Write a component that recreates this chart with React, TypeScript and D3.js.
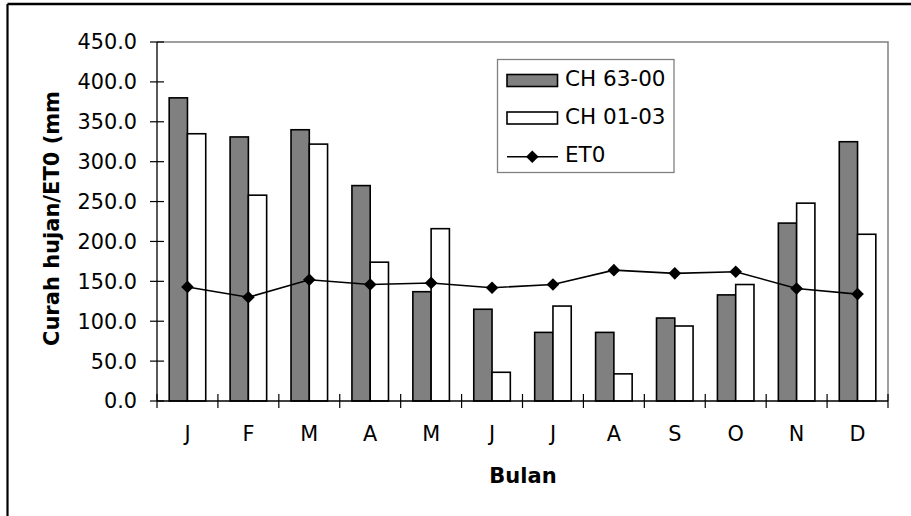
import React from "react";
import * as d3 from "d3";

const months = ["J", "F", "M", "A", "M", "J", "J", "A", "S", "O", "N", "D"];
const ch6300 = [380, 331, 340, 270, 137, 115, 86, 86, 104, 133, 223, 325];
const ch0103 = [335, 258, 322, 174, 216, 36, 119, 34, 94, 146, 248, 209];
const et0 = [143, 130, 152, 146, 148, 142, 146, 164, 160, 162, 141, 134];
const yTicks = [0, 50, 100, 150, 200, 250, 300, 350, 400, 450];
const seriesNames = ["CH 63-00", "CH 01-03"];

const W = 911;
const H = 516;
const left = 157;
const right = 888;
const top = 42;
const bottom = 401;
const FONT = "'DejaVu Sans', sans-serif";

export default function App() {
  const idx = months.map((_, i) => i);
  const x = d3.scaleBand<number>().domain(idx).range([left, right]).padding(0);
  const bw = x.bandwidth();
  const x1 = d3
    .scaleBand<string>()
    .domain(seriesNames)
    .range([bw * 0.2, bw * 0.8])
    .padding(0);
  const y = d3.scaleLinear().domain([0, 450]).range([bottom, top]);
  const fmt = d3.format(".1f");
  const line = d3
    .line<number>()
    .x((_, i) => (x(i) as number) + bw / 2)
    .y((d) => y(d));
  const sq = d3.symbol().type(d3.symbolSquare).size(80)();
  const seriesVals = [ch6300, ch0103];
  const fills = ["#808080", "#ffffff"];

  return (
    <svg
      width={W}
      height={H}
      style={{ position: "absolute", left: 0, top: 0, background: "#fff" }}
      fontFamily={FONT}
    >
      <rect x={0} y={0} width={W} height={H} fill="#fff" />
      {/* outer chart border (top & left visible) */}
      <line x1={7.5} y1={4} x2={W} y2={4} stroke="#000" strokeWidth={2.5} />
      <line x1={7.5} y1={4} x2={7.5} y2={H} stroke="#000" strokeWidth={2.2} />

      {/* plot area top/right border */}
      <path
        d={`M${left},${top}H${right}V${bottom}`}
        fill="none"
        stroke="#808080"
        strokeWidth={1.5}
      />

      {/* bars */}
      {seriesVals.map((vals, s) =>
        vals.map((v, i) => (
          <rect
            key={`b${s}-${i}`}
            x={(x(i) as number) + (x1(seriesNames[s]) as number)}
            y={y(v)}
            width={x1.bandwidth()}
            height={bottom - y(v)}
            fill={fills[s]}
            stroke="#000"
            strokeWidth={1.6}
          />
        ))
      )}

      {/* axes */}
      <line x1={left} y1={top} x2={left} y2={bottom} stroke="#000" strokeWidth={1.3} />
      <line x1={left} y1={bottom} x2={right} y2={bottom} stroke="#000" strokeWidth={1.3} />
      {yTicks.map((t) => (
        <g key={`yt${t}`}>
          <line x1={left - 7} x2={left + 7} y1={y(t)} y2={y(t)} stroke="#000" strokeWidth={1.2} />
          <text
            x={137}
            y={y(t)}
            dy="0.36em"
            textAnchor="end"
            fontSize={20.8}
            fill="#000"
          >
            {fmt(t)}
          </text>
        </g>
      ))}
      {idx.concat([12]).map((i) => {
        const xx = i === 12 ? right : (x(i) as number);
        return (
          <line
            key={`xt${i}`}
            x1={xx}
            x2={xx}
            y1={bottom - 7}
            y2={bottom + 7}
            stroke="#000"
            strokeWidth={1.2}
          />
        );
      })}
      {months.map((m, i) => (
        <text
          key={`xl${i}`}
          x={(x(i) as number) + bw / 2}
          y={441}
          textAnchor="middle"
          fontSize={20.8}
          fill="#000"
        >
          {m}
        </text>
      ))}

      {/* ET0 line */}
      <path d={line(et0) || ""} fill="none" stroke="#000" strokeWidth={1.6} />
      {et0.map((v, i) => (
        <path
          key={`m${i}`}
          d={sq || ""}
          transform={`translate(${(x(i) as number) + bw / 2},${y(v)}) rotate(45)`}
          fill="#000"
        />
      ))}

      {/* axis titles */}
      <text
        transform="translate(58.5,218.5) rotate(-90)"
        textAnchor="middle"
        fontSize={21}
        fontWeight="bold"
        fill="#000"
      >
        Curah hujan/ET0 (mm
      </text>
      <text x={523} y={483.3} textAnchor="middle" fontSize={21} fontWeight="bold" fill="#000">
        Bulan
      </text>

      {/* legend */}
      <rect x={497.5} y={59.5} width={176.5} height={113} fill="#fff" stroke="#808080" strokeWidth={1.3} />
      <rect x={507} y={74.5} width={50.5} height={12} fill="#808080" stroke="#000" strokeWidth={1.6} />
      <text x={565} y={86} fontSize={21.5} fill="#000">
        {seriesNames[0]}
      </text>
      <rect x={507} y={112} width={50.5} height={12} fill="#fff" stroke="#000" strokeWidth={1.6} />
      <text x={565} y={123.5} fontSize={21.5} fill="#000">
        {seriesNames[1]}
      </text>
      <line x1={507} x2={558} y1={156.7} y2={156.7} stroke="#000" strokeWidth={1.6} />
      <path d={sq || ""} transform="translate(532.3,156.7) rotate(45)" fill="#000" />
      <text x={565} y={161.7} fontSize={21.5} fill="#000">
        ET0
      </text>
    </svg>
  );
}
